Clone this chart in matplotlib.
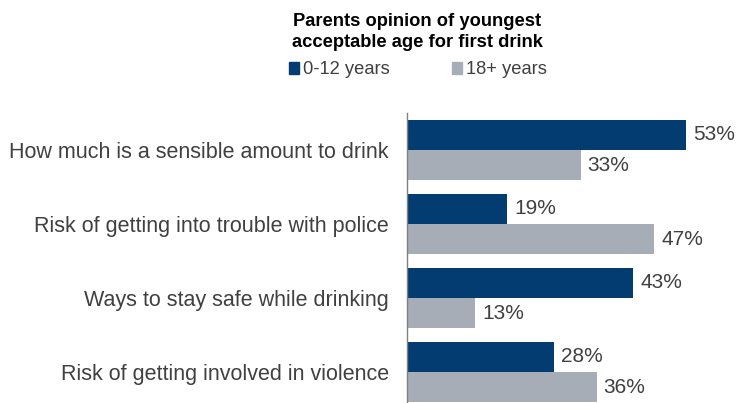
import matplotlib.pyplot as plt
from matplotlib.patches import Patch

plt.rcParams['font.family'] = ['Liberation Sans', 'DejaVu Sans']

topics = [
    "How much is a sensible amount to drink",
    "Risk of getting into trouble with police",
    "Ways to stay safe while drinking",
    "Risk of getting involved in violence",
]
young = [53, 19, 43, 28]
adult = [33, 47, 13, 36]
series_names = ["0-12 years", "18+ years"]

dark = "#023c70"
grey = "#a6adb6"
txt = "#404040"

fig = plt.figure(figsize=(7.36, 4.03), dpi=100)
W, H = 736, 403
ax = fig.add_axes([407 / W, 0, (W - 407) / W, (H - 113) / H])

h = 0.41
ypos = list(range(len(topics)))
b1 = ax.barh([y - h / 2 for y in ypos], young, height=h, color=dark)
b2 = ax.barh([y + h / 2 for y in ypos], adult, height=h, color=grey)

for bars, vals in ((b1, young), (b2, adult)):
    ax.bar_label(bars, labels=[f"{v}%" for v in vals], padding=5,
                 fontsize=15, color=txt)

ax.set_xlim(0, 62.5)
ax.set_ylim(3.42, -0.5)
ax.set_yticks(ypos)
ax.set_yticklabels(topics, fontsize=15.5, color=txt)
ax.tick_params(axis='y', length=0, pad=13)
ax.set_xticks([])
for s in ["top", "right", "bottom"]:
    ax.spines[s].set_visible(False)
ax.spines["left"].set_color("#808080")
ax.spines["left"].set_linewidth(1)

fig.text(417 / W, 1 - 32 / H, "Parents opinion of youngest\nacceptable age for first drink",
         ha="center", va="center", fontsize=13.2, fontweight="bold",
         color="black", linespacing=1.28)

handles = [Patch(color=dark), Patch(color=grey)]
fig.legend(handles, series_names, loc="center", ncol=2,
           bbox_to_anchor=(418 / W, 1 - 70 / H), frameon=False,
           fontsize=13.2, handlelength=0.55, handleheight=0.55,
           handletextpad=0.2, columnspacing=3.4, labelcolor=txt)

fig.savefig("out.png", dpi=100)
